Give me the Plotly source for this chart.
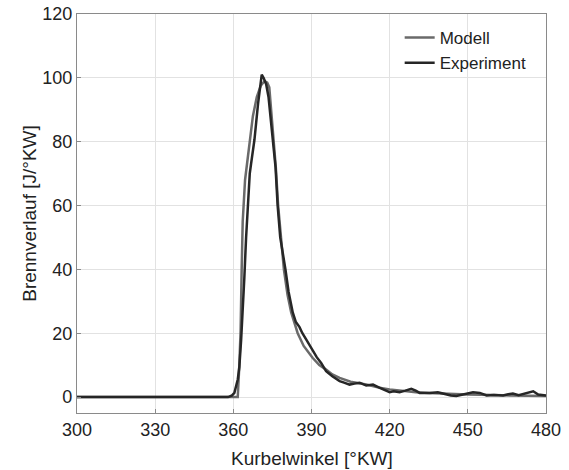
import plotly.graph_objects as go

# Model (Modell) curve
model_x = [300, 361.7, 362.3, 362.8, 363.2, 363.6, 364.5, 365.2, 366.2, 367.5, 369, 370.5, 372, 373, 373.8,
           374.8, 375.6, 376.3, 377.2, 378.2, 379.4, 380.8, 382.2, 384.7, 387, 390.4, 393, 395.6, 398, 400.8,
           405, 411, 415, 420, 425, 430, 435, 440, 450, 460, 470, 480]
model_y = [0, 0, 10, 21, 40, 55, 68, 73, 80, 88, 94, 97.5, 99, 98.5, 97,
           88, 80, 72, 60, 50, 40, 32, 26.5, 20, 16, 12.3, 10, 8.6, 7.1, 6,
           4.8, 3.9, 3.1, 2.4, 1.9, 1.5, 1.3, 1.1, 0.8, 0.6, 0.4, 0.3]

# Experiment curve
exp_x = [300, 358, 359.5, 360.4, 361.7, 362.3, 363, 363.6, 364.2, 364.9, 365.5, 366.3, 366.8, 368.1, 369.5,
         370.3, 370.9, 371.6, 372.6, 373.5, 374.3, 375.2, 376.2, 377, 378, 380, 381.2, 382.8, 384, 385.4,
         386.5, 388, 390.5, 392, 393.7, 395.6, 398, 400.8, 402.5, 404.6, 406.5, 408.5, 411, 413.6, 416.2,
         418, 420, 421.5, 423.8, 426, 428.3, 430, 431.5, 435.4, 438.5, 440, 441.8, 443.5, 445.6, 448,
         450, 452, 454.6, 457.2, 460, 463.5, 465.5, 467.3, 469.5, 472.6, 474, 475.1, 477, 479.6, 480]
exp_y = [0, 0, 0.5, 1.3, 5.5, 9.4, 18, 26.6, 37, 50, 60, 70, 73, 80.6, 92,
         98, 101, 100, 98, 94, 88, 80, 72, 60, 50, 40, 33, 26.5, 23.5, 21.9,
         20, 18, 14.5, 12.5, 10.7, 8.1, 6.5, 5, 4.5, 3.9, 4.2, 4.5, 3.6, 3.9, 2.9,
         2.2, 1.5, 1.8, 1.5, 2.0, 2.6, 2.0, 1.3, 1.3, 1.5, 1.2, 0.8, 0.5, 0.3, 0.8,
         1.2, 1.5, 1.3, 0.5, 0.6, 0.5, 0.9, 1.1, 0.6, 1.3, 1.5, 1.8, 0.8, 0.5, 0.5]

x_ticks = [300, 330, 360, 390, 420, 450, 480]
y_ticks = [0, 20, 40, 60, 80, 100, 120]

FONT = "Liberation Sans, Arial, sans-serif"
TXT = "#222222"

fig = go.Figure()
fig.add_trace(go.Scatter(x=model_x, y=model_y, mode="lines", name="Modell",
                         line=dict(color="#6a6a6a", width=2.5)))
fig.add_trace(go.Scatter(x=exp_x, y=exp_y, mode="lines", name="Experiment",
                         line=dict(color="#262626", width=2.5)))

axis_common = dict(showgrid=True, gridcolor="#e2e2e2", gridwidth=1, zeroline=False,
                   showline=True, linecolor="#8a8a8a", linewidth=1.2, mirror=True,
                   ticks="inside", ticklen=4, tickcolor="#8a8a8a", automargin=False,
                   tickfont=dict(family=FONT, size=18, color=TXT))

fig.update_layout(
    width=569, height=470,
    margin=dict(l=77, r=23, t=14, b=57),
    paper_bgcolor="white", plot_bgcolor="white",
    xaxis=dict(range=[300, 480], tickvals=x_ticks, **axis_common),
    yaxis=dict(range=[-5, 120], tickvals=y_ticks,
               title=dict(text="Brennverlauf [J/°KW]", standoff=0,
                          font=dict(family=FONT, size=19, color=TXT)), **axis_common),
    legend=dict(x=0.688, y=0.985, xanchor="left", yanchor="top", bgcolor="rgba(0,0,0,0)",
                font=dict(family=FONT, size=17, color=TXT),
                itemwidth=30, tracegroupgap=4),
    showlegend=True,
    annotations=[dict(text="Kurbelwinkel [°KW]", xref="paper", yref="paper", x=0.5, y=-0.115,
                      xanchor="center", yanchor="middle", showarrow=False,
                      font=dict(family=FONT, size=19, color=TXT))],
)

# remove the browser's default 8px body margin so the figure fills the window exactly
fig.write_html("out.html", config={"displayModeBar": False},
               post_script="document.body.style.margin='0px';")
